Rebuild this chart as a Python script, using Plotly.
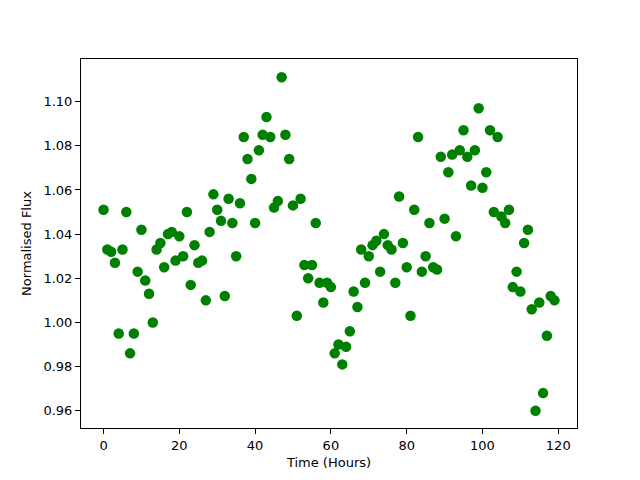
import plotly.graph_objects as go

hours = list(range(120))
flux = [
    1.051, 1.033, 1.032, 1.027, 0.995, 1.033, 1.050, 0.986, 0.995, 1.023,
    1.042, 1.019, 1.013, 1.000, 1.033, 1.036, 1.025, 1.040, 1.041, 1.028,
    1.039, 1.030, 1.050, 1.017, 1.035, 1.027, 1.028, 1.010, 1.041, 1.058,
    1.051, 1.046, 1.012, 1.056, 1.045, 1.030, 1.054, 1.084, 1.074, 1.065,
    1.045, 1.078, 1.085, 1.093, 1.084, 1.052, 1.055, 1.111, 1.085, 1.074,
    1.053, 1.003, 1.056, 1.026, 1.020, 1.026, 1.045, 1.018, 1.009, 1.018,
    1.016, 0.986, 0.990, 0.981, 0.989, 0.996, 1.014, 1.007, 1.033, 1.018,
    1.030, 1.035, 1.037, 1.023, 1.040, 1.035, 1.033, 1.018, 1.057, 1.036,
    1.025, 1.003, 1.051, 1.084, 1.023, 1.030, 1.045, 1.025, 1.024, 1.075,
    1.047, 1.068, 1.076, 1.039, 1.078, 1.087, 1.075, 1.062, 1.078, 1.097,
    1.061, 1.068, 1.087, 1.050, 1.084, 1.048, 1.045, 1.051, 1.016, 1.023,
    1.014, 1.036, 1.042, 1.006, 0.960, 1.009, 0.968, 0.994, 1.012, 1.010,
]
x_ticks = [0, 20, 40, 60, 80, 100, 120]
y_ticks = [0.96, 0.98, 1.00, 1.02, 1.04, 1.06, 1.08, 1.10]

fig = go.Figure(go.Scatter(
    x=hours, y=flux, mode="markers",
    marker=dict(color="#008000", size=10.5, line=dict(width=0)),
))

axis_common = dict(
    showgrid=False, zeroline=False, showline=True, linecolor="black", linewidth=1,
    mirror=True, ticks="outside", ticklen=5, tickcolor="black", automargin=False,
    tickfont=dict(family="DejaVu Sans", size=13, color="black"),
)
fig.update_xaxes(range=[-5.95, 124.95], tickvals=x_ticks,
                 title=dict(text="Time (Hours)", font=dict(family="DejaVu Sans", size=13, color="black"), standoff=6),
                 **axis_common)
fig.update_yaxes(range=[0.9522, 1.1193], tickvals=y_ticks,
                 ticktext=[f"{v:.2f}" for v in y_ticks],
                 title=dict(text="Normalised Flux", font=dict(family="DejaVu Sans", size=13, color="black"), standoff=8),
                 **axis_common)
fig.update_layout(
    width=640, height=480,
    margin=dict(l=73, r=71, t=51, b=60, pad=0, autoexpand=False),
    plot_bgcolor="white", paper_bgcolor="white",
    showlegend=False,
)
fig.write_html("out.html")
